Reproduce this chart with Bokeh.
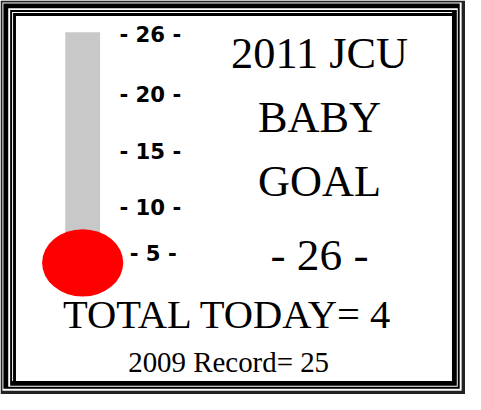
import numpy as np
from bokeh.plotting import figure
from bokeh.models import Range1d
from bokeh.core.properties import value
from bokeh.embed import file_html
from bokeh.resources import INLINE

# ---- data ----
goal = 26
total_today = 4
record_2009 = 25
year = 2011
tick_values = [26, 20, 15, 10, 5]
tick_labels = ["- 26 -", "- 20 -", "- 15 -", "- 10 -", "- 5 -"]
title_lines = [f"{year} JCU", "BABY", "GOAL"]

# ---- layout (reference pixel space 481 x 410, y downward) ----
REF_W, REF_H = 481, 410
W, H = 465, 394
fs = (W / REF_W + H / REF_H) / 2
BASE_SHIFT = 0.36  # correction of the rendered baseline, in em

tick_baselines = [43, 106, 165, 223, 271]
tick_x = [155, 155, 155, 155, 158]
title_baselines = [72, 138, 205]

p = figure(width=W, height=H, output_backend="svg", toolbar_location=None,
           x_range=Range1d(0, REF_W), y_range=Range1d(REF_H, 0),
           min_border=0, outline_line_color=None)
p.axis.visible = False
p.grid.visible = False
p.background_fill_color = "white"
p.border_fill_color = "white"

# ---- decorative frame: nested rectangles (top/left inset, bottom/right inset) ----
frame = [(0, 0, "#222222"), (2, 4, "white"), (3, 6, "black"), (8, 8, "white"),
         (10, 9, "black"), (12, 14, "white"), (13, 14, "black"), (16, 14, "white")]
for tl, br, col in frame:
    p.quad(left=tl, right=REF_W - br, top=tl, bottom=REF_H - br,
           fill_color=col, line_color=None)

# ---- thermometer ----
tube_left, tube_right, tube_top, tube_bottom = 67, 103, 33, 248
bulb_x, bulb_y, bulb_w, bulb_h = 85, 273, 84, 70
p.quad(left=tube_left, right=tube_right, top=tube_top, bottom=tube_bottom,
       fill_color="#c8c8c8", line_color=None)
ys = np.array(tick_baselines[::-1], dtype=float) - 8
vs = np.array(tick_values[::-1], dtype=float)
level_y = float(np.interp(total_today, vs, ys))
p.quad(left=tube_left, right=tube_right, top=min(level_y, tube_bottom), bottom=bulb_y,
       fill_color="red", line_color=None)
p.ellipse(x=bulb_x, y=bulb_y, width=bulb_w, height=bulb_h,
          fill_color="red", line_color=None)


def put(xs, ys_, texts, size, font, style="normal"):
    ys2 = [y - BASE_SHIFT * size for y in ys_]
    p.text(x=xs, y=ys2, text=texts, text_font=value(font), text_font_style=style,
           text_font_size=f"{size*fs:.1f}px", text_align="center",
           text_baseline="alphabetic", text_color="black")


# ---- scale labels ----
put(tick_x, tick_baselines, tick_labels, 22, "DejaVu Sans", "bold")

# ---- title ----
put([330] * 3, title_baselines, title_lines, 46, "Liberation Serif")
put([330], [282], [f"- {goal} -"], 47, "Liberation Serif")
put([235], [342], [f"TOTAL TODAY= {total_today}"], 42, "Liberation Serif")
put([236], [387], [f"2009 Record= {record_2009}"], 30, "Liberation Serif")

open("out.html", "w").write(file_html(p, INLINE))
